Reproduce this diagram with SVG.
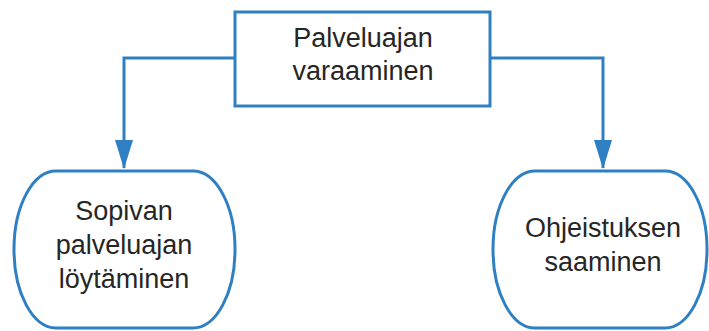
<svg xmlns="http://www.w3.org/2000/svg" width="709" height="331" viewBox="0 0 709 331">
<style>
.box{fill:#fff;stroke:#2f80c2;stroke-width:3}
.conn{fill:none;stroke:#2f80c2;stroke-width:3;marker-end:url(#ah)}
.t{font-family:"Liberation Sans",Arial,sans-serif;font-size:27px;fill:#262626;text-anchor:middle}
</style>
<defs>
<marker id="ah" markerUnits="userSpaceOnUse" markerWidth="29" markerHeight="18" refX="28" refY="9" orient="auto" viewBox="0 0 29 18">
<path d="M0,0 L29,9 L0,18 Z" fill="#2f80c2"/>
</marker>
</defs>
<rect width="709" height="331" fill="#fff"/>
<g id="connectors">
<path class="conn" d="M235,58 H124 V168"/>
<path class="conn" d="M490,58 H603 V168"/>
</g>
<g id="n1">
<rect class="box" x="235" y="12" width="255" height="94"/>
<text class="t" x="363" y="47">Palveluajan</text>
<text class="t" x="363" y="80">varaaminen</text>
</g>
<g id="n2">
<rect class="box" x="14" y="171" width="221" height="157" rx="42" ry="78"/>
<text class="t" x="124" y="220">Sopivan</text>
<text class="t" x="124" y="254">palveluajan</text>
<text class="t" x="124" y="288">löytäminen</text>
</g>
<g id="n3">
<rect class="box" x="493" y="171" width="214" height="157" rx="42" ry="78"/>
<text class="t" x="603" y="237">Ohjeistuksen</text>
<text class="t" x="603" y="271">saaminen</text>
</g>
</svg>
